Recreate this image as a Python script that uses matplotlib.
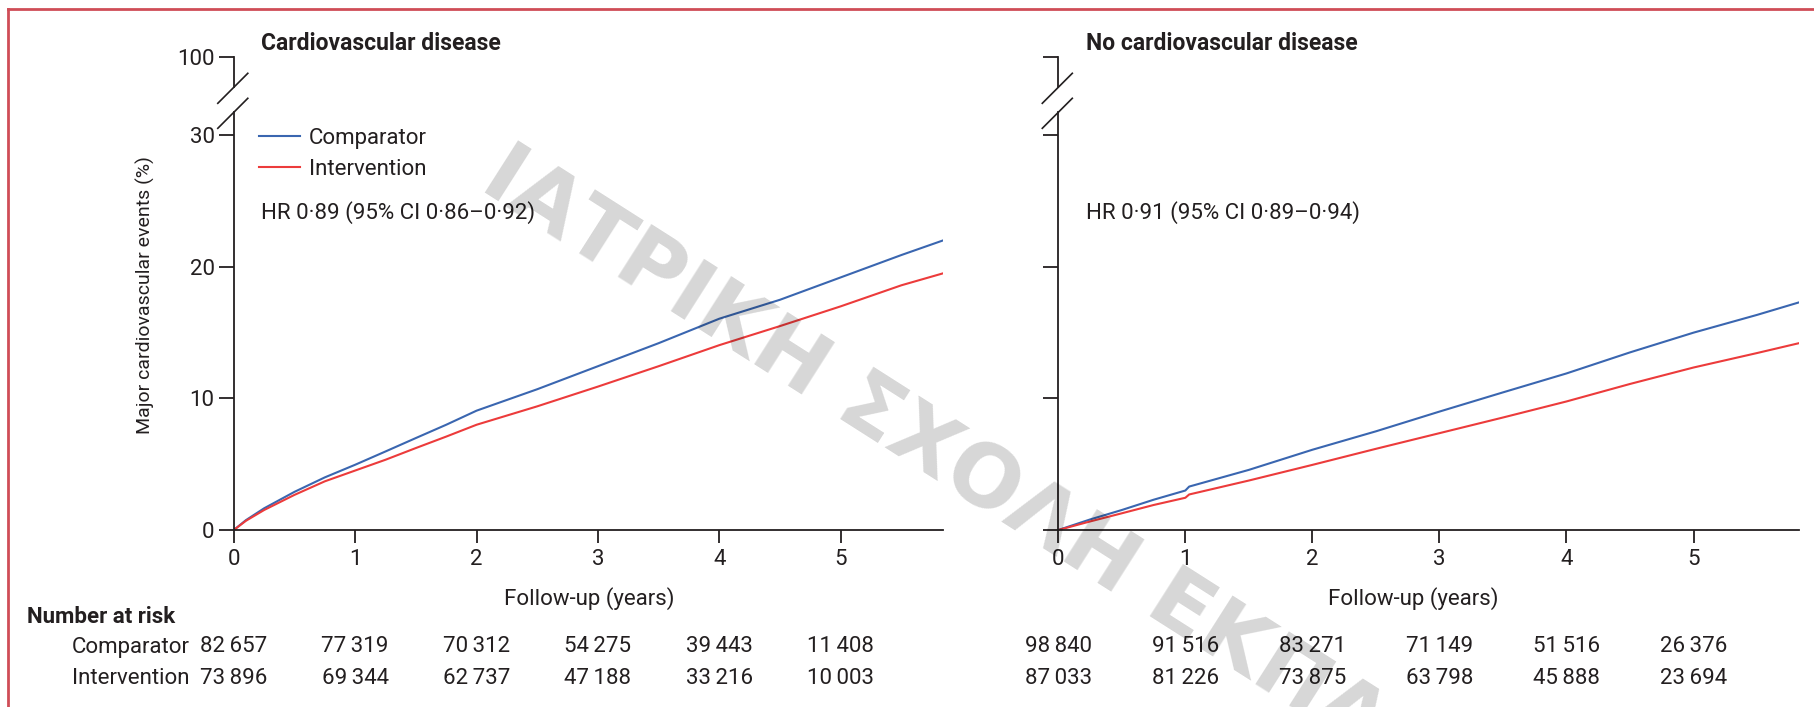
import matplotlib.pyplot as plt
from matplotlib.lines import Line2D
from matplotlib import transforms

plt.rcParams['font.family'] = ['Roboto', 'DejaVu Sans']

W, H = 1815, 707

# cumulative incidence (%)
cvd_years = [0, 0.1, 0.25, 0.5, 0.75, 1.0, 1.25, 1.5, 1.75, 2.0, 2.5, 3.0, 3.5, 4.0, 4.5, 5.0, 5.5, 5.84]
cvd_comparator = [0, 0.75, 1.65, 2.9, 4.0, 4.96, 5.97, 6.99, 8.0, 9.07, 10.7, 12.45, 14.2, 16.06, 17.5, 19.2, 20.9, 22.0]
cvd_intervention = [0, 0.7, 1.52, 2.67, 3.7, 4.52, 5.34, 6.23, 7.1, 8.0, 9.4, 10.9, 12.45, 14.05, 15.5, 17.0, 18.6, 19.5]

nocvd_years = [0, 0.25, 0.5, 0.75, 1.0, 1.03, 1.5, 2.0, 2.5, 3.0, 3.5, 4.0, 4.5, 5.0, 5.5, 5.83]
nocvd_comparator = [0, 0.8, 1.52, 2.3, 3.0, 3.3, 4.57, 6.1, 7.5, 9.0, 10.46, 11.9, 13.5, 15.0, 16.35, 17.3]
nocvd_intervention = [0, 0.65, 1.27, 1.9, 2.45, 2.7, 3.76, 4.95, 6.17, 7.36, 8.55, 9.77, 11.1, 12.35, 13.45, 14.2]

# number at risk
risk_years = [0, 1, 2, 3, 4, 5]
cvd_risk_comparator = [82657, 77319, 70312, 54275, 39443, 11408]
cvd_risk_intervention = [73896, 69344, 62737, 47188, 33216, 10003]
nocvd_risk_comparator = [98840, 91516, 83271, 71149, 51516, 26376]
nocvd_risk_intervention = [87033, 81226, 73875, 63798, 45888, 23694]

y_ticks = [0, 10, 20, 30]
x_ticks = [0, 1, 2, 3, 4, 5]

BLUE = '#3a66b0'
RED = '#ec3b3b'
INK = '#231f20'


def fx(px):
    return px / W


def fy(py):
    return 1 - py / H


def fmt(n):
    # Lancet style thin-space thousands separator
    return f'{n:,}'.replace(',', '\u2009')


def slash(fig, x, y):
    fig.add_artist(Line2D([fx(x - 15), fx(x + 15)], [fy(y + 15), fy(y - 15)],
                          transform=fig.transFigure, color=INK, lw=1.2))


def draw_panel(fig, x0, x1, xmax, years, comp, interv, title, hr, risk_c, risk_i, labels=True):
    ax = fig.add_axes([fx(x0), fy(530), fx(x1) - fx(x0), fy(111.6) - fy(530)])
    top = fig.add_axes([fx(x0), fy(86.6), fx(x1) - fx(x0), fy(56.7) - fy(86.6)])

    ax.plot(years, comp, color=BLUE, lw=1.5, label='Comparator')
    ax.plot(years, interv, color=RED, lw=1.5, label='Intervention')
    ax.set_xlim(0, xmax)
    ax.set_ylim(0, 31.8)
    ax.set_xticks(x_ticks)
    ax.set_yticks(y_ticks)
    for s in ['top', 'right']:
        ax.spines[s].set_visible(False)
    for s in ['left', 'bottom']:
        ax.spines[s].set_linewidth(1.3)
        ax.spines[s].set_color(INK)
    ax.tick_params(axis='x', length=9.6, width=1.3, pad=4, labelsize=16, colors=INK)
    ax.tick_params(axis='y', length=10.8, width=1.3, pad=3, labelsize=16, colors=INK, labelleft=labels)
    ax.patch.set_alpha(0)

    top.set_xlim(0, xmax)
    top.set_ylim(97, 100)
    top.set_yticks([100])
    top.set_xticks([])
    for s in ['top', 'right', 'bottom']:
        top.spines[s].set_visible(False)
    top.spines['left'].set_linewidth(1.3)
    top.spines['left'].set_color(INK)
    top.tick_params(axis='y', length=10.8, width=1.3, pad=3, labelsize=16, colors=INK, labelleft=labels)
    top.patch.set_alpha(0)

    slash(fig, x0 - 1, 88.3)
    slash(fig, x0 - 1, 113.3)

    fig.text(fx(x0 + 27.5), fy(43.3), title, fontsize=16.5, fontweight='bold', color=INK,
             ha='left', va='center')
    fig.text(fx(x0 + 27.5), fy(213), hr, fontsize=16, color=INK, ha='left', va='center')

    tr = transforms.blended_transform_factory(ax.transData, fig.transFigure)
    for t, c, i in zip(risk_years, risk_c, risk_i):
        ax.text(t, fy(647), fmt(c), transform=tr, ha='center', va='center', fontsize=16, color=INK)
        ax.text(t, fy(679), fmt(i), transform=tr, ha='center', va='center', fontsize=16, color=INK)
    return ax


fig = plt.figure(figsize=(W / 100, H / 100), dpi=100)

ax1 = draw_panel(fig, 233.8, 942.7, 5.84, cvd_years, cvd_comparator, cvd_intervention,
                 'Cardiovascular disease', 'HR 0·89 (95% CI 0·86–0·92)',
                 cvd_risk_comparator, cvd_risk_intervention)
ax2 = draw_panel(fig, 1058.3, 1799, 5.83, nocvd_years, nocvd_comparator, nocvd_intervention,
                 'No cardiovascular disease', 'HR 0·91 (95% CI 0·89–0·94)',
                 nocvd_risk_comparator, nocvd_risk_intervention, labels=False)

ax1.legend(loc='upper left', bbox_to_anchor=(fx(259), fy(128)), bbox_transform=fig.transFigure,
           frameon=False, fontsize=16, handlelength=1.85, handletextpad=0.4,
           labelspacing=0.45, borderpad=0, borderaxespad=0, labelcolor=INK)

fig.text(fx(145), fy(295), 'Major cardiovascular events (%)', rotation=90, fontsize=14,
         color=INK, ha='center', va='center')
fig.text(fx(589), fy(599), 'Follow-up (years)', fontsize=16, color=INK, ha='center', va='center')
fig.text(fx(1413), fy(599), 'Follow-up (years)', fontsize=16, color=INK, ha='center', va='center')

fig.text(fx(27), fy(617), 'Number at risk', fontsize=16, fontweight='bold', color=INK,
         ha='left', va='center')
fig.text(fx(190), fy(647), 'Comparator', fontsize=16, color=INK, ha='right', va='center')
fig.text(fx(190), fy(679), 'Intervention', fontsize=16, color=INK, ha='right', va='center')

# red frame
fig.add_artist(Line2D([fx(8), 1], [fy(9), fy(9)], transform=fig.transFigure, color='#cf4d57', lw=2))
fig.add_artist(Line2D([fx(8), fx(8)], [fy(9), 0], transform=fig.transFigure, color='#cf4d57', lw=2))

# watermark
fig.text(fx(478), fy(188), 'ΙΑΤΡΙΚΗ ΣΧΟΛΗ ΕΚΠΑ', rotation=-32.5, rotation_mode='anchor',
         ha='left', va='baseline', fontsize=62, fontweight='bold', family='DejaVu Sans',
         color='black', alpha=0.16, zorder=10)

fig.savefig('out.png', dpi=100)
